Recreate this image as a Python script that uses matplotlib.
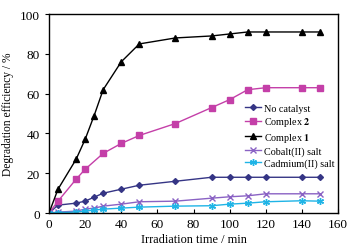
import matplotlib
matplotlib.use("Agg")
import matplotlib.pyplot as plt

plt.rcParams['font.family'] = ['Liberation Serif', 'DejaVu Serif']
plt.rcParams['mathtext.fontset'] = 'stix'

time = [0, 5, 15, 20, 25, 30, 40, 50, 70, 90, 100, 110, 120, 140, 150]
no_catalyst = [0, 4, 5, 6, 8, 10, 12, 14, 16, 18, 18, 18, 18, 18, 18]
complex2_t = [0, 5, 15, 20, 30, 40, 50, 70, 90, 100, 110, 120, 140, 150]
complex2 = [0, 6, 17, 22, 30, 35, 39, 45, 53, 57, 62, 63, 63, 63]
complex1_t = [0, 5, 15, 20, 25, 30, 40, 50, 70, 90, 100, 110, 120, 140, 150]
complex1 = [0, 12, 27, 37, 49, 62, 76, 85, 88, 89, 90, 91, 91, 91, 91]
cobalt = [0, 0.5, 1, 2, 2.5, 3.5, 4.5, 5.7, 6, 7.5, 8.2, 8.7, 9.7, 9.7, 9.7]
cadmium = [0, 0.3, 0.5, 1, 1.5, 2, 2.5, 3, 3.5, 3.7, 4.5, 5, 5.7, 6.2, 6]

fig = plt.figure(figsize=(3.6, 2.51), dpi=100)
ax = fig.add_axes([0.136, 0.147, 0.803, 0.793])

ax.plot(time, no_catalyst, color='#353585', marker='D', ms=3, lw=1.0, label='No catalyst')
ax.plot(complex2_t, complex2, color='#c43fa8', marker='s', ms=4, lw=1.0, label=r'Complex $\mathbf{2}$')
ax.plot(complex1_t, complex1, color='black', marker='^', ms=4, lw=1.0, label=r'Complex $\mathbf{1}$')
ax.plot(time, cobalt, color='#8a62c4', marker='x', ms=4, mew=1.0, lw=1.0, label='Cobalt(II) salt')
ax.plot(time, cadmium, color='#1fb4e6', marker=(6, 2, 0), ms=5, mew=1.0, lw=1.0, label='Cadmium(II) salt')

ax.set_xlim(0, 160)
ax.set_ylim(0, 100)
ax.set_xticks(range(0, 161, 20))
ax.set_yticks(range(0, 101, 20))
ax.tick_params(axis='x', direction='in', labelsize=9.5, length=3)
ax.tick_params(axis='y', direction='out', labelsize=9.5, length=3)
ax.set_xlabel('Irradiation time / min', fontsize=8.8, labelpad=2)
ax.set_ylabel('Degradation efficiency / %', fontsize=8.3, labelpad=4)
for s in ax.spines.values():
    s.set_linewidth(1.0)

ax.legend(loc='upper left', bbox_to_anchor=(0.665, 0.57), frameon=False, fontsize=7.3,
          handlelength=1.6, handletextpad=0.2, labelspacing=0.25, borderaxespad=0)

fig.savefig('out.png', dpi=100)
